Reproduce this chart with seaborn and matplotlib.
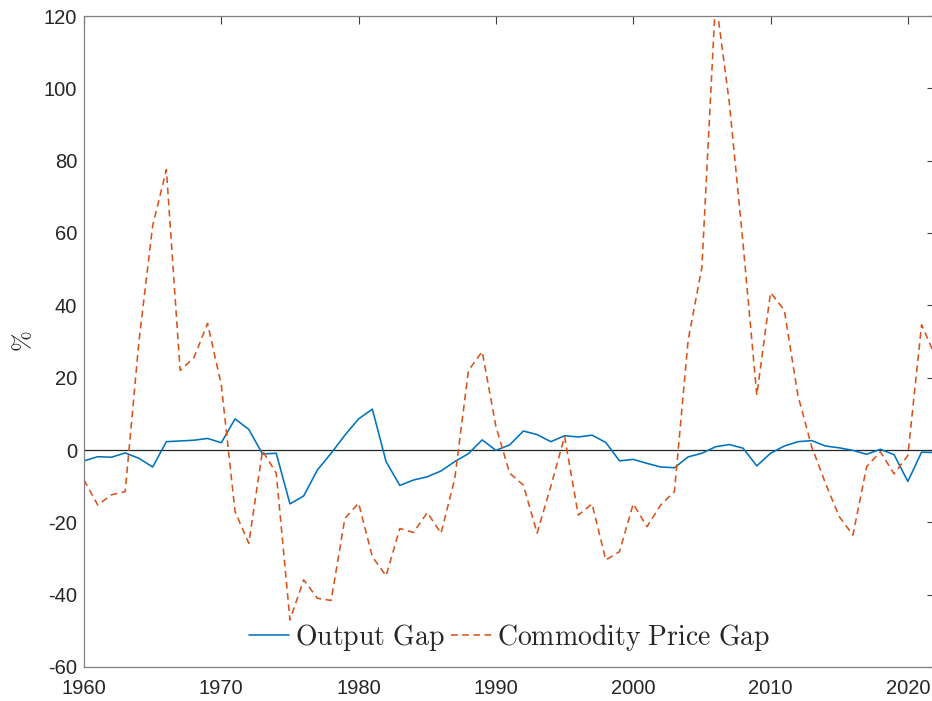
import numpy as np
import pandas as pd
import matplotlib
matplotlib.use("Agg")
import matplotlib.pyplot as plt
import seaborn as sns

# Annual series, in percent
years = list(range(1960, 2023))

output_gap = [
    -3.0, -1.85, -2.0, -0.8, -2.3, -4.7, 2.3, 2.5, 2.7, 3.2,
    2.0, 8.6, 5.7, -1.1, -0.9, -14.9, -12.7, -5.5, -0.9, 4.1,
    8.6, 11.3, -3.2, -9.8, -8.3, -7.4, -5.8, -3.2, -1.0, 2.8,
    -0.1, 1.4, 5.25, 4.25, 2.3, 3.95, 3.6, 4.1, 2.1, -3.0,
    -2.6, -3.7, -4.7, -4.9, -1.9, -0.9, 0.9, 1.5, 0.5, -4.4,
    -0.9, 1.1, 2.3, 2.6, 1.1, 0.6, -0.1, -1.2, 0.2, -1.3,
    -8.7, -0.6, -0.7,
]

commodity_gap = [
    -8.3, -15.2, -12.4, -11.5, 30.0, 62.0, 77.5, 22.0, 25.5, 35.0,
    18.0, -17.0, -25.8, -0.2, -6.4, -47.0, -35.9, -41.0, -41.6, -18.9,
    -14.7, -29.5, -34.8, -21.7, -22.8, -17.3, -23.0, -8.0, 22.0, 27.2,
    6.5, -6.4, -9.7, -23.0, -10.0, 3.7, -18.0, -14.9, -30.4, -28.1,
    -14.9, -21.2, -15.2, -11.5, 30.4, 50.5, 125.0, 96.0, 57.0, 15.2,
    43.5, 38.7, 15.0, 0.9, -9.2, -18.4, -23.5, -4.6, -0.5, -6.6,
    -1.5, 34.6, 26.0,
]

series_names = ["Output Gap", "Commodity Price Gap"]
legend_labels = [r"$\mathrm{Output\ Gap}$", r"$\mathrm{Commodity\ Price\ Gap}$"]

x_ticks = list(range(1960, 2021, 10))
y_ticks = list(range(-60, 121, 20))

sns.set_theme(style="white")
plt.rcParams["font.family"] = ["Liberation Sans", "DejaVu Sans"]
plt.rcParams["mathtext.fontset"] = "cm"
plt.rcParams["axes.unicode_minus"] = False

df = pd.DataFrame({"year": years,
                   series_names[0]: output_gap,
                   series_names[1]: commodity_gap})
long_df = df.melt(id_vars="year", var_name="series", value_name="value")

fig = plt.figure(figsize=(9.32, 7.01), dpi=100)
ax = fig.add_axes([84 / 932, 34 / 701, 851.3 / 932, 651 / 701])

ax.axhline(0, color="#262626", lw=0.9, zorder=1)

sns.lineplot(
    data=long_df, x="year", y="value",
    hue="series", style="series",
    hue_order=series_names, style_order=series_names,
    palette={series_names[0]: "#0072BD", series_names[1]: "#D95319"},
    dashes={series_names[0]: "", series_names[1]: (4.2, 2.8)},
    linewidth=1.15, legend=False, ax=ax, zorder=2,
)

ax.set_xlim(1960, 2022)
ax.set_ylim(-60, 120)
ax.set_xticks(x_ticks)
ax.set_yticks(y_ticks)
ax.set_xlabel("")
ax.set_ylabel(r"$\%$", fontsize=18, color="#262626", labelpad=6)

ax.tick_params(axis="both", which="both", direction="in", length=6,
               width=0.8, color="#404040", labelcolor="#262626",
               labelsize=14.5, top=True, right=True)
ax.tick_params(axis="x", pad=9)
ax.tick_params(axis="y", pad=5)

for spine in ax.spines.values():
    spine.set_visible(True)
    spine.set_color("#808080")
    spine.set_linewidth(0.9)

ax.legend(handles=ax.lines[1:3], labels=legend_labels,
          loc="center", bbox_to_anchor=(0.5, 0.046), ncol=2,
          frameon=False, fontsize=20, handlelength=1.45,
          handletextpad=0.2, columnspacing=0.25, borderaxespad=0)

fig.savefig("out.png", dpi=100)
